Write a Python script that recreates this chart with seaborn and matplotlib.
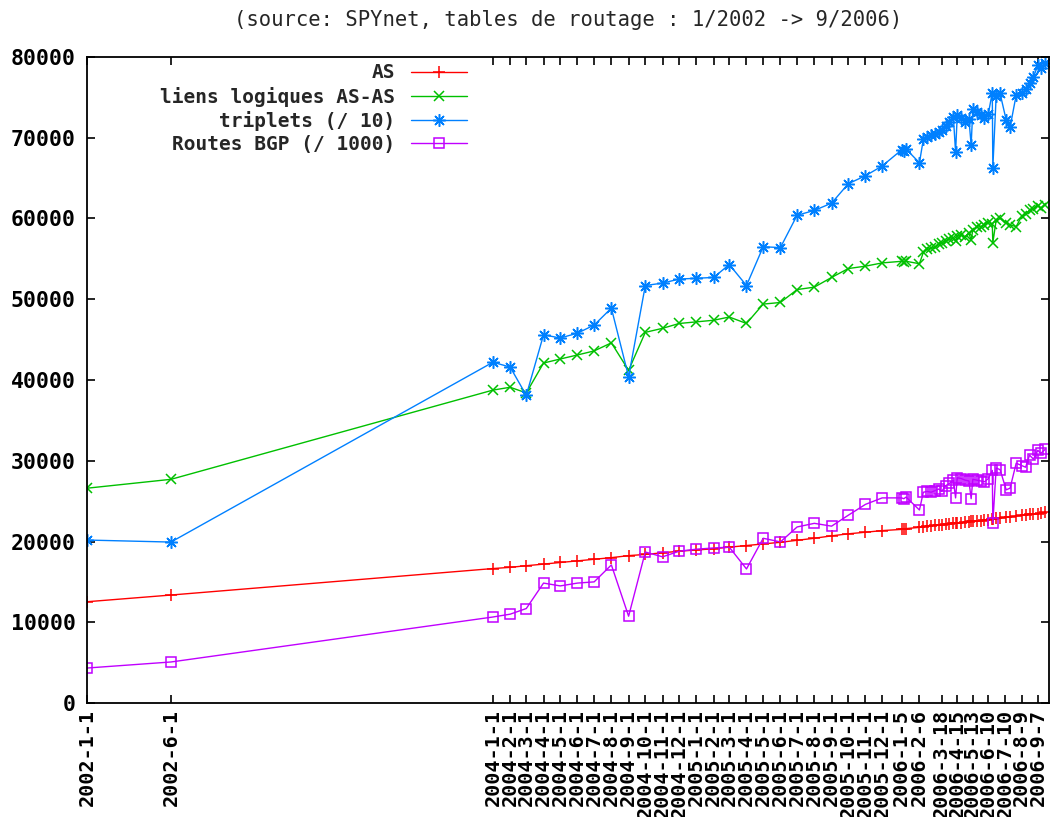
import matplotlib
matplotlib.use("Agg")
import matplotlib.pyplot as plt
import seaborn as sns
import pandas as pd
from matplotlib.font_manager import FontProperties

# ---------------- data ----------------
dates = (
    ["2002-01-01", "2002-06-01",
     "2004-01-01", "2004-02-01", "2004-03-01", "2004-04-01", "2004-05-01", "2004-06-01",
     "2004-07-01", "2004-08-01", "2004-09-01", "2004-10-01", "2004-11-01", "2004-12-01",
     "2005-01-01", "2005-02-01", "2005-03-01", "2005-04-01", "2005-05-01", "2005-06-01",
     "2005-07-01", "2005-08-01", "2005-09-01", "2005-10-01", "2005-11-01", "2005-12-01",
     "2006-01-05", "2006-01-09", "2006-01-13", "2006-02-06", "2006-02-13", "2006-02-20",
     "2006-02-27", "2006-03-06", "2006-03-13", "2006-03-18", "2006-03-25", "2006-04-01",
     "2006-04-08", "2006-04-12", "2006-04-15", "2006-04-22", "2006-04-29", "2006-05-06",
     "2006-05-10", "2006-05-13", "2006-05-20", "2006-05-27", "2006-06-03", "2006-06-10",
     "2006-06-17", "2006-06-18", "2006-06-24", "2006-07-01", "2006-07-12", "2006-07-19",
     "2006-07-30", "2006-08-09", "2006-08-16", "2006-08-23", "2006-08-30", "2006-09-07",
     "2006-09-12", "2006-09-20"]
)

as_count = [12540, 13370,
            16650, 16800, 17000, 17200, 17400, 17600, 17800, 18000, 18250, 18400, 18600, 18800,
            18950, 19100, 19300, 19500, 19700, 19900, 20150, 20400, 20700, 20950, 21150, 21350,
            21500, 21550, 21600, 21750, 21850, 21900, 21950, 22000, 22050, 22100, 22150, 22200,
            22250, 22250, 22300, 22350, 22400, 22450, 22500, 22500, 22550, 22600, 22650, 22700,
            22750, 22800, 22850, 22900, 23000, 23050, 23150, 23250, 23300, 23350, 23400, 23450,
            23550, 23600]

as_links = [26600, 27700,
            38750, 39100, 38400, 42100, 42600, 43100, 43600, 44600, 41200, 45900, 46400, 47000,
            47200, 47400, 47800, 47000, 49400, 49600, 51200, 51500, 52700, 53800, 54100, 54500,
            54700, 54600, 54700, 54400, 55800, 56200, 56300, 56500, 56800, 57000, 57200, 57400,
            57600, 57200, 57800, 58000, 57700, 58200, 57300, 58600, 58900, 59000, 59200, 59500,
            59300, 57000, 59800, 60000, 59500, 59200, 59000, 60300, 60500, 61000, 61200, 61600,
            61300, 61700]

triplets = [20180, 19930,
            42200, 41600, 38100, 45600, 45200, 45800, 46800, 48900, 40400, 51700, 52000, 52500,
            52600, 52700, 54300, 51700, 56500, 56400, 60400, 61000, 61900, 64300, 65300, 66500,
            68500, 68300, 68600, 66900, 69800, 70100, 70300, 70500, 70700, 71000, 71500, 72000,
            72600, 68200, 72800, 72500, 72000, 72300, 69100, 73500, 73200, 72800, 72400, 73000,
            75600, 66300, 75200, 75500, 72200, 71300, 75300, 75500, 76000, 76800, 77500, 79000,
            78600, 79200]

bgp_routes = [4330, 5080,
              10650, 11000, 11700, 14850, 14500, 14850, 15000, 17100, 10750, 18700, 18100, 18800,
              19050, 19200, 19300, 16600, 20400, 19950, 21800, 22250, 21900, 23250, 24600, 25400,
              25400, 25300, 25500, 23900, 26100, 26200, 26100, 26300, 26500, 26200, 26900, 27200,
              27600, 25400, 27900, 27800, 27600, 27500, 25300, 27700, 27600, 27500, 27400, 27800,
              28800, 22300, 29100, 28900, 26400, 26600, 29700, 29400, 29200, 30700, 30200, 31300,
              30900, 31400]

series_names = ["AS", "liens logiques AS-AS", "triplets (/ 10)", "Routes BGP (/ 1000)"]

tick_dates = ["2002-01-01", "2002-06-01",
              "2004-01-01", "2004-02-01", "2004-03-01", "2004-04-01", "2004-05-01", "2004-06-01",
              "2004-07-01", "2004-08-01", "2004-09-01", "2004-10-01", "2004-11-01", "2004-12-01",
              "2005-01-01", "2005-02-01", "2005-03-01", "2005-04-01", "2005-05-01", "2005-06-01",
              "2005-07-01", "2005-08-01", "2005-09-01", "2005-10-01", "2005-11-01", "2005-12-01",
              "2006-01-05", "2006-02-06", "2006-03-18", "2006-04-15", "2006-05-13", "2006-06-10",
              "2006-07-10", "2006-08-09", "2006-09-07"]
tick_labels = ["2002-1-1", "2002-6-1",
               "2004-1-1", "2004-2-1", "2004-3-1", "2004-4-1", "2004-5-1", "2004-6-1",
               "2004-7-1", "2004-8-1", "2004-9-1", "2004-10-1", "2004-11-1", "2004-12-1",
               "2005-1-1", "2005-2-1", "2005-3-1", "2005-4-1", "2005-5-1", "2005-6-1",
               "2005-7-1", "2005-8-1", "2005-9-1", "2005-10-1", "2005-11-1", "2005-12-1",
               "2006-1-5", "2006-2-6", "2006-3-18", "2006-4-15", "2006-5-13", "2006-6-10",
               "2006-7-10", "2006-8-9", "2006-9-7"]
y_ticks = [0, 10000, 20000, 30000, 40000, 50000, 60000, 70000, 80000]

title = "(source: SPYnet, tables de routage : 1/2002 -> 9/2006)"

# ---------------- plot ----------------
sns.set_theme(style="white")
plt.rcParams["font.family"] = ["DejaVu Sans Mono", "DejaVu Sans"]

x = pd.to_datetime(dates)
fig = plt.figure(figsize=(10.51, 8.17), dpi=100)
ax = fig.add_axes([87 / 1051, 1 - 703 / 817, (1049 - 87) / 1051, (703 - 57) / 817])

styles = [
    (as_count, "#ff0000", "+", 9),
    (as_links, "#00c000", "x", 7),
    (triplets, "#0080ff", (8, 2, 0), 9),
    (bgp_routes, "#c000ff", "s", 7),
]
for name, (vals, col, mk, ms) in zip(series_names, styles):
    sns.lineplot(x=x, y=vals, ax=ax, color=col, marker=mk, markersize=ms,
                 markeredgewidth=1.1, markerfacecolor="none", markeredgecolor=col,
                 linewidth=1.0, label=name, sort=False)

ax.set_xlim(pd.Timestamp("2002-01-01"), pd.Timestamp("2006-09-27"))
ax.set_ylim(0, 80000)
ax.set_xticks(pd.to_datetime(tick_dates))
ax.set_xticklabels(tick_labels, rotation=90)
ax.set_yticks(y_ticks)
ax.set_yticklabels([str(v) for v in y_ticks])

xfont = FontProperties(family="DejaVu Sans Mono", weight="bold", size=14.5)
yfont = FontProperties(family="DejaVu Sans Mono", weight="bold", size=15.5)
for lab in ax.get_xticklabels():
    lab.set_fontproperties(xfont)
for lab in ax.get_yticklabels():
    lab.set_fontproperties(yfont)

ax.tick_params(axis="both", which="both", direction="in", length=6, width=1.2,
               top=True, right=True, bottom=True, left=True, colors="black")
ax.tick_params(axis="x", labeltop=False, pad=4)
ax.tick_params(axis="y", labelright=False, pad=8)
for sp in ax.spines.values():
    sp.set_color("black")
    sp.set_linewidth(1.3)
ax.set_xlabel("")
ax.set_ylabel("")
ax.grid(False)

ax.set_title(title, fontsize=14.8, family="DejaVu Sans Mono", pad=22)

leg = ax.legend(loc="upper right", bbox_to_anchor=(0.395, 0.99), frameon=False,
                markerfirst=False, handlelength=2.9, handletextpad=0.8,
                labelspacing=0.22, borderpad=0, borderaxespad=0,
                prop=FontProperties(family="DejaVu Sans Mono", weight="bold", size=14))
try:
    vp = leg._legend_box._children[-1]._children[0]
    vp.align = "right"
except Exception:
    pass

fig.savefig("out.png", dpi=100)
